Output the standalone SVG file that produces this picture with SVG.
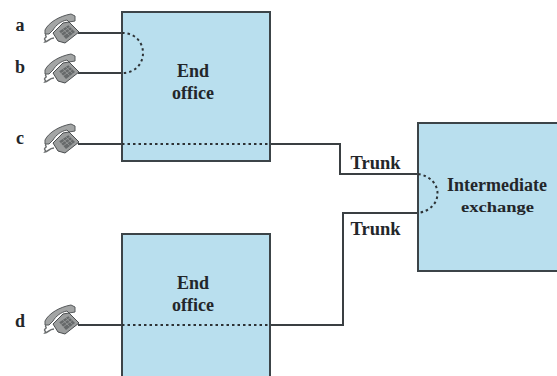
<svg xmlns="http://www.w3.org/2000/svg" xmlns:xlink="http://www.w3.org/1999/xlink" width="557" height="376" viewBox="0 0 557 376">
<style>
.box{fill:#b9dfee;stroke:#3c4448;stroke-width:2}
.ln{fill:none;stroke:#3a3f42;stroke-width:2}
.dot{fill:none;stroke:#2d3235;stroke-width:2;stroke-dasharray:2.5 3}
text{font-family:"Liberation Serif",serif;font-weight:bold;fill:#23262a}
.lb{font-size:18px;text-anchor:middle}
</style>
<defs>
<g id="phone">
<path d="M3 17C7 9 18 3 29 1L33 3L33 8L27 9L25 7C19 8 14 12 11 17L7 21L3 21Z" fill="#a3a5a5" stroke="#55585a" stroke-width="1"/>
<path d="M11 20L21 10L27 9L37 19L23 30L16 28Z" fill="#9b9d9d" stroke="#4a4d4f" stroke-width="1"/>
<path d="M17 18L26 12L33 19L24 26Z" fill="#66696a"/>
<path d="M17 18L26 12M19 20.500L28 14M21 23L30 16.500M20.500 15.700L27.500 22.500M23.500 13.700L30.500 20.500" stroke="#a8aaaa" stroke-width=".6" fill="none"/>
<path d="M4 21C2 23 6 23 3 25C1 27 5 27 3 29C6 29 7 25 12 25" fill="none" stroke="#6a6d6e" stroke-width="1.5"/>
</g>
</defs>
<g id="connectors">
<path class="ln" d="M78 33H122M78 73H122M78 144H122M270 144H340V174H418M418 213H343V325H270M78 325H122"/>
</g>
<g id="node-end-office-1"><rect class="box" x="122" y="12" width="148" height="149"/>
<text class="lb" x="193" y="77">End</text><text class="lb" x="193" y="99">office</text></g>
<g id="node-end-office-2"><path class="box" d="M122 377V234H270V377"/>
<text class="lb" x="193" y="289">End</text><text class="lb" x="193" y="311">office</text></g>
<g id="node-intermediate"><rect class="box" x="418" y="123" width="140" height="148"/>
<text class="lb" x="497" y="191">Intermediate</text><text x="497.500" y="212" text-anchor="middle" font-size="15" textLength="73" lengthAdjust="spacingAndGlyphs">exchange</text></g>
<g id="switching-paths">
<path class="dot" d="M122 33C150 33 150 73 122 73"/>
<path class="dot" d="M122 144H270"/>
<path class="dot" d="M122 325H270"/>
<path class="dot" d="M418 174C444 178 444 209 418 213"/>
</g>
<g id="phone-a"><use xlink:href="#phone" href="#phone" x="42" y="13"/><text x="20" y="31" class="lb">a</text></g>
<g id="phone-b"><use xlink:href="#phone" href="#phone" x="42" y="53"/><text x="20" y="73" class="lb">b</text></g>
<g id="phone-c"><use xlink:href="#phone" href="#phone" x="42" y="123"/><text x="20" y="144" class="lb">c</text></g>
<g id="phone-d"><use xlink:href="#phone" href="#phone" x="42" y="304"/><text x="20" y="327" class="lb">d</text></g>
<g id="trunk-labels">
<text class="lb" x="375.500" y="169" style="font-size:18.5px">Trunk</text>
<text class="lb" x="375.500" y="235" style="font-size:18.5px">Trunk</text>
</g>
</svg>
